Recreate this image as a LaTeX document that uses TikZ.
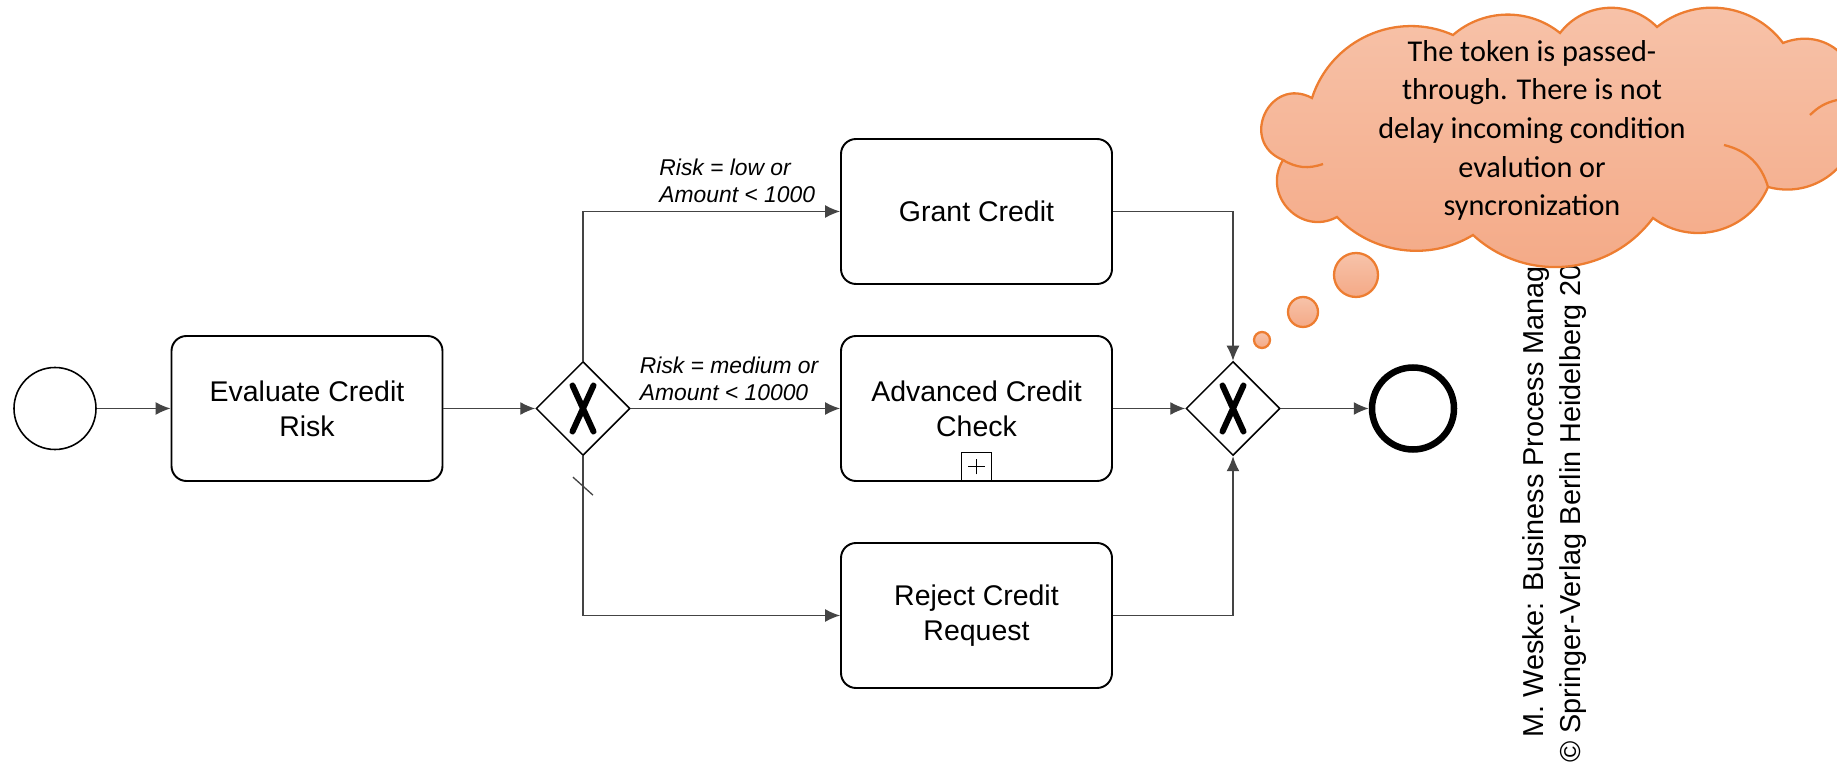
\documentclass[tikz,border=0pt]{standalone}
\usepackage{fontspec}
\setmainfont{Liberation Sans}
\newfontfamily\notefont{Carlito}
\usetikzlibrary{shapes.geometric,arrows.meta}
\definecolor{flowgray}{HTML}{444444}
\definecolor{noteline}{HTML}{ED7D31}
\definecolor{notetop}{HTML}{F7C3AA}
\definecolor{notebot}{HTML}{F4A986}

\begin{document}
\begin{tikzpicture}[
task/.style={
draw,
line width=1.1pt,
rounded corners=0.3cm,
align=center,
minimum width=5.42cm,
minimum height=2.9cm,
font=\fontsize{16.2}{19.8}\selectfont
},
gate/.style={draw, diamond, line width=0.85pt, minimum size=1.88cm, inner sep=0pt},
flow/.style={draw=flowgray, line width=0.75pt, -{Latex[length=0.3cm,width=0.26cm]}},
cond/.style={align=left, inner sep=0pt, font=\fontsize{13}{15.3}\selectfont\itshape},
xmark/.style={line width=3.4pt, line cap=round},
noteline/.style={draw=noteline, line width=1.3pt},
bubble/.style={noteline, top color=notetop, bottom color=notebot, inner sep=0pt}
]
\useasboundingbox (0,0) rectangle (36.74,-15.34);

\node[circle, draw, line width=0.9pt, minimum size=1.64cm] (S) at (1.10,-8.17)
{};

\node[task] (E) at (6.14,-8.17)
{Evaluate Credit\\Risk};

\node[gate] (D1) at (11.66,-8.17)
{};

\node[task] (G) at (19.53,-4.23)
{Grant Credit};

\node[task] (A) at (19.53,-8.17)
{Advanced Credit\\Check};

\node[task] (R) at (19.53,-12.31)
{Reject Credit\\Request};

\node[gate] (D2) at (24.66,-8.17)
{};

\node[circle, draw, line width=3.7pt, minimum size=1.64cm] (F) at (28.26,-8.17)
{};

% sub-process marker
\node[draw, line width=0.8pt, minimum width=0.6cm, minimum height=0.58cm, inner sep=0pt, anchor=south] (P) at (A.south)
{};
\draw[line width=0.8pt] (P.center) ++(-0.17,0) -- ++(0.34,0)
(P.center) ++(0,-0.15) -- ++(0,0.3);

\foreach \g in {D1,D2}
\draw[xmark] ([shift={(-0.21,0.46)}]\g.center) -- ([shift={(0.21,-0.46)}]\g.center)
([shift={(0.21,0.46)}]\g.center) -- ([shift={(-0.21,-0.46)}]\g.center);

\draw[flow] (S) -- (E);
\draw[flow] (E) -- (D1);
\draw[flow] (D1) |- node[cond, pos=0.8, above=0.16cm] {Risk = low or\\Amount < 1000} (G);
\draw[flow] (D1) -- node[cond, pos=0.47, above=0.14cm] {Risk = medium or\\Amount < 10000} (A);
\draw[flow] (D1) |- coordinate[pos=0.094] (dflt) (R);
\draw[line width=0.75pt, flowgray] (dflt) ++(-0.2,0.18) -- ++(0.4,-0.36);
\draw[flow] (G) -| (D2);
\draw[flow] (A) -- (D2);
\draw[flow] (R) -| (D2);
\draw[flow] (D2) -- (F);

% watermark
\node[rotate=90, anchor=base west, inner sep=0pt, font=\fontsize{16.4}{21}\selectfont] (W1) at (30.86,-14.76)
{M. Weske: Business Process Management};
\node[rotate=90, anchor=base west, inner sep=0pt, font=\fontsize{16.4}{21}\selectfont] (W2) at (31.60,-15.26)
{© Springer-Verlag Berlin Heidelberg 2007};

% thought cloud
\node[bubble, circle, minimum size=0.32cm] (B3) at (25.24,-6.80) {};
\node[bubble, circle, minimum size=0.6cm] (B2) at (26.06,-6.24) {};
\node[bubble, circle, minimum size=0.88cm] (B1) at (27.12,-5.50) {};
\draw[bubble] (25.66,-3.20)
to[bend left=93, looseness=1.8] (26.24,-1.96)
to[bend left=48, looseness=1.02] (29.06,-0.70)
to[bend left=40, looseness=0.96] (31.20,-0.66)
to[bend left=49, looseness=1.03] (33.14,-0.54)
to[bend left=46, looseness=1.0] (35.66,-0.86)
to[bend left=60, looseness=1.2] (37.10,-2.00)
to[bend left=60, looseness=1.15] (35.36,-3.74)
to[bend left=52, looseness=1.05] (33.06,-4.36)
to[bend left=48, looseness=1.02] (29.46,-4.70)
to[bend left=39, looseness=0.95] (26.74,-4.34)
to[bend left=75, looseness=1.34] (25.66,-3.20) -- cycle;
\draw[noteline] (25.66,-3.20) to[bend right=25] (26.46,-3.28);
\draw[noteline] (34.48,-2.90) to[bend left=30] (35.36,-3.74);
\draw[noteline] (36.74,-2.00) to[bend right=15] (36.20,-2.30);
\node[align=center, font=\notefont\fontsize{17.2}{22}\selectfont] (T) at (30.64,-2.61)
{The token is passed-\\through. There is not\\delay incoming condition\\evalution or\\syncronization};

\end{tikzpicture}
\end{document}
